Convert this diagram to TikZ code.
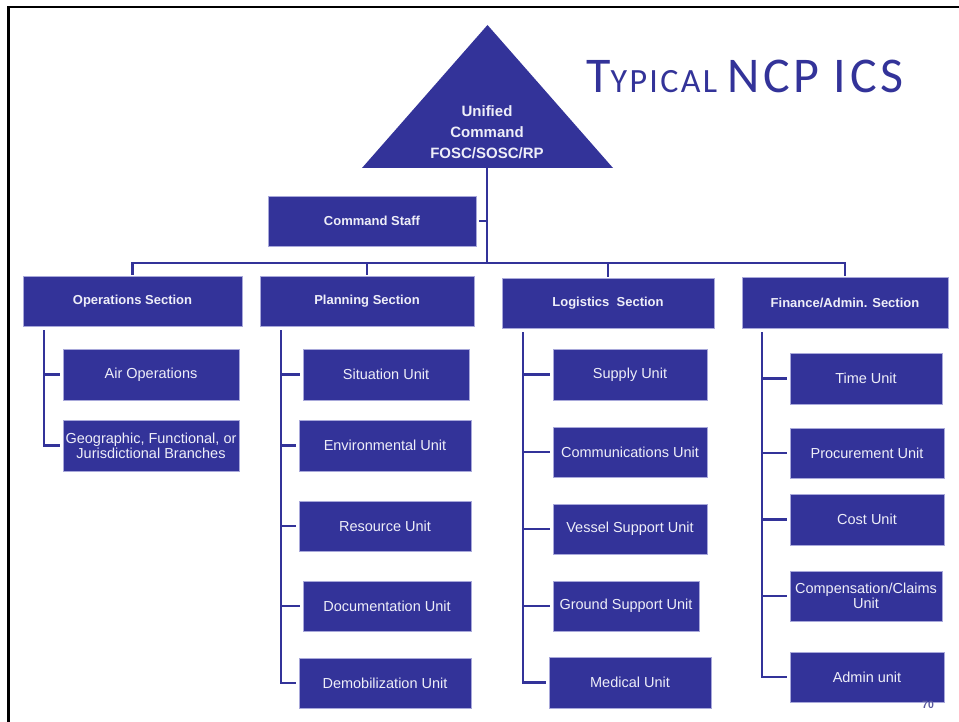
\documentclass[tikz,border=0pt]{standalone}
\usepackage{fontspec}
\setmainfont{Liberation Sans}
\newfontfamily\titlefont[LetterSpace=7]{Carlito}
\definecolor{boxblue}{HTML}{333399}
\definecolor{boxedge}{HTML}{A8A8DA}
\definecolor{boxtext}{HTML}{EEEEF8}
\definecolor{pagenum}{HTML}{5A5A9E}
\tikzset{
  box/.style={fill=boxblue, draw=boxedge, line width=0.7pt, text=boxtext,
    inner sep=0pt, align=center, font=\fontsize{14.5}{15}\selectfont},
  secbox/.style={box, font=\bfseries\fontsize{13}{15}\selectfont},
  conn/.style={draw=boxblue, line width=2.6pt},
}
\begin{document}
\begin{tikzpicture}[x=1pt,y=-1pt]
\useasboundingbox (0,0) rectangle (959,722);
\fill[white] (0,0) rectangle (959,722);
% frame
\draw[black, line width=2.5pt] (8.7,722) -- (8.7,7) -- (959,7);
% title
\node[anchor=base west, inner sep=0pt, text=boxblue, font=\titlefont] (title) at (586,93)
  {\fontsize{50}{50}\selectfont T\fontsize{34}{34}\selectfont YPICAL \fontsize{50}{50}\selectfont NCP ICS};
% triangle
\coordinate (apex) at (487.5,25);
\coordinate (bl) at (362,168);
\coordinate (br) at (613,168);
\coordinate (ucbase) at (487,168);
\fill[boxblue] (apex) -- (br) -- (bl) -- cycle;
\node[text=boxtext, align=center, inner sep=0pt, font=\bfseries\fontsize{15}{21}\selectfont] (uc) at (487,132)
  {Unified\\Command\\FOSC/SOSC/RP};
% command staff
\node[secbox, minimum width=208, minimum height=50] (cs) at (372,221) {Command Staff};
% sections
\node[secbox, minimum width=219, minimum height=50] (ops) at (132.5,301) {Operations Section};
\node[secbox, minimum width=214, minimum height=50] (plan) at (367,301) {Planning Section};
\node[secbox, minimum width=212, minimum height=50] (log) at (608,303) {Logistics\ \ Section};
\node[secbox, minimum width=206, minimum height=51] (fin) at (845,302.5) {Finance/Admin. Section};
% operations children
\node[box, minimum width=176, minimum height=51] (air) at (151,374.5) {Air Operations};
\node[box, minimum width=176, minimum height=51] (geo) at (151,445.5) {Geographic, Functional, or\\Jurisdictional Branches};
% planning children
\node[box, minimum width=166, minimum height=51] (sit) at (386,374.5) {Situation Unit};
\node[box, minimum width=172, minimum height=51] (env) at (385,445.5) {Environmental Unit};
\node[box, minimum width=172, minimum height=50] (res) at (385,526) {Resource Unit};
\node[box, minimum width=168, minimum height=50] (doc) at (387,606) {Documentation Unit};
\node[box, minimum width=172, minimum height=50] (demob) at (385,683) {Demobilization Unit};
% logistics children
\node[box, minimum width=154, minimum height=51] (sup) at (630,374.5) {Supply Unit};
\node[box, minimum width=154, minimum height=50] (com) at (630,452) {Communications Unit};
\node[box, minimum width=154, minimum height=50] (ves) at (630,529) {Vessel Support Unit};
\node[box, minimum width=146, minimum height=50] (gro) at (626,606) {Ground Support Unit};
\node[box, minimum width=162, minimum height=51] (med) at (630,682.5) {Medical Unit};
% finance children
\node[box, minimum width=152, minimum height=51] (time) at (866,378.5) {Time Unit};
\node[box, minimum width=154, minimum height=50] (proc) at (867,453) {Procurement Unit};
\node[box, minimum width=154, minimum height=51] (cost) at (867,519.5) {Cost Unit};
\node[box, minimum width=152, minimum height=50] (comp) at (866,596) {Compensation/Claims\\Unit};
\node[box, minimum width=154, minimum height=50] (admin) at (867,677) {Admin unit};
% page number
\node[text=pagenum, inner sep=0pt, font=\bfseries\fontsize{10.5}{12}\selectfont] (pg) at (928,705) {70};
% connectors: trunk and bus
\coordinate (bus) at (487,263);
\draw[conn] (ucbase) -- (bus);
\draw[conn, shorten <=3pt] (cs.east) -- (cs.east -| bus);
\draw[conn, shorten <=1pt, shorten >=1pt] (ops.north) |- (bus) -| (fin.north);
\draw[conn, shorten <=1pt] (plan.north) -- (plan.north |- bus);
\draw[conn, shorten <=1pt] (log.north) -- (log.north |- bus);
% section lines
\coordinate (opsL) at (44,330);
\coordinate (planL) at (281,330);
\coordinate (logL) at (523,332);
\coordinate (finL) at (762,332);
\draw[conn, shorten >=3pt] (opsL) |- (geo.west);
\draw[conn, shorten <=3pt] (air.west) -- (air.west -| opsL);
\draw[conn, shorten >=3pt] (planL) |- (demob.west);
\foreach \n in {sit,env,res,doc}
  \draw[conn, shorten <=3pt] (\n.west) -- (\n.west -| planL);
\draw[conn, shorten >=3pt] (logL) |- (med.west);
\foreach \n in {sup,com,ves,gro}
  \draw[conn, shorten <=3pt] (\n.west) -- (\n.west -| logL);
\draw[conn, shorten >=3pt] (finL) |- (admin.west);
\foreach \n in {time,proc,cost,comp}
  \draw[conn, shorten <=3pt] (\n.west) -- (\n.west -| finL);
\end{tikzpicture}
\end{document}
